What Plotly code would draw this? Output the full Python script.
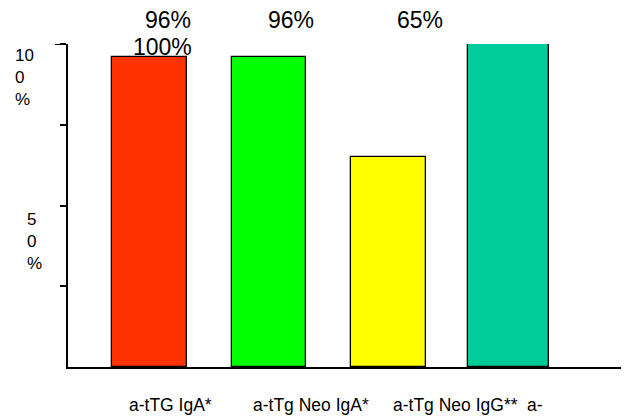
import plotly.graph_objects as go

# ---- data ----
categories = ["a-tTG IgA*", "a-tTg Neo IgA*", "a-tTg Neo IgG**", "a-"]
values = [96, 96, 65, 100]
value_labels = ["96%", "96%", "65%", "100%"]
y_tick_values = [25, 50, 75, 100]
y_tick_labels = ["10<br>0<br>%", "5<br>0<br>%"]

# ---- style ----
bar_colors = ["#FF3300", "#00FF00", "#FFFF00", "#00CC99"]
bar_widths = [0.63, 0.62, 0.63, 0.68]
FONT = "Liberation Sans, Arial, sans-serif"

xpos = list(range(len(values)))

fig = go.Figure()
fig.add_trace(go.Bar(
    x=xpos, y=values, width=bar_widths,
    marker=dict(color=bar_colors, line=dict(color="black", width=1.3)),
    hoverinfo="skip", showlegend=False,
))

ann = []
# value labels (as laid out in the original, shifted / wrapped)
val_shift = [(18.5, 24), (22, 24), (31.5, 24), (12.5, -3)]
val_anchor_bar = [0, 1, 2, 0]
for lbl, (xs, ys), b in zip(value_labels, val_shift, val_anchor_bar):
    ann.append(dict(x=b, y=100, xref="x", yref="y", text=lbl, showarrow=False,
                    xanchor="center", yanchor="middle", xshift=xs, yshift=ys,
                    font=dict(family=FONT, size=23, color="black")))

# category labels
cat_shift = [20.5, 42, 67, 26.5]
for i, (c, xs) in enumerate(zip(categories, cat_shift)):
    ann.append(dict(x=i, y=0, xref="x", yref="y", text=c, showarrow=False,
                    xanchor="center", yanchor="middle", xshift=xs, yshift=-38,
                    font=dict(family=FONT, size=17.5, color="black")))

# y tick labels (wrapped as in original)
ylab_pos = [(100, -55, -33), (50, -43, -35.5)]
for t, (yv, xs, ys) in zip(y_tick_labels, ylab_pos):
    ann.append(dict(x=0, y=yv, xref="paper", yref="y", text=t, showarrow=False,
                    xanchor="left", yanchor="middle", align="left",
                    xshift=xs, yshift=ys,
                    font=dict(family=FONT, size=17, color="black")))

# page body has an 8px margin, so the figure is sized to fill the rest
fig.update_layout(
    width=621, height=411,
    margin=dict(l=60, r=0, t=36, b=52, pad=0),
    plot_bgcolor="white", paper_bgcolor="white",
    annotations=ann,
    bargap=0,
    shapes=[dict(type="line", xref="paper", yref="y", xsizemode="pixel",
                 xanchor=0, x0=-13, x1=0, y0=100, y1=100,
                 line=dict(color="black", width=2))],
)
fig.update_xaxes(range=[-0.682, 4.01], showline=True, linecolor="black", linewidth=2,
                 showgrid=False, zeroline=False, showticklabels=False, ticks="")
fig.update_yaxes(range=[0, 100], showline=True, linecolor="black", linewidth=2,
                 showgrid=False, zeroline=False, tickvals=y_tick_values,
                 showticklabels=False, ticks="outside", ticklen=6, tickwidth=2,
                 tickcolor="black")

fig.write_html("out.html")
